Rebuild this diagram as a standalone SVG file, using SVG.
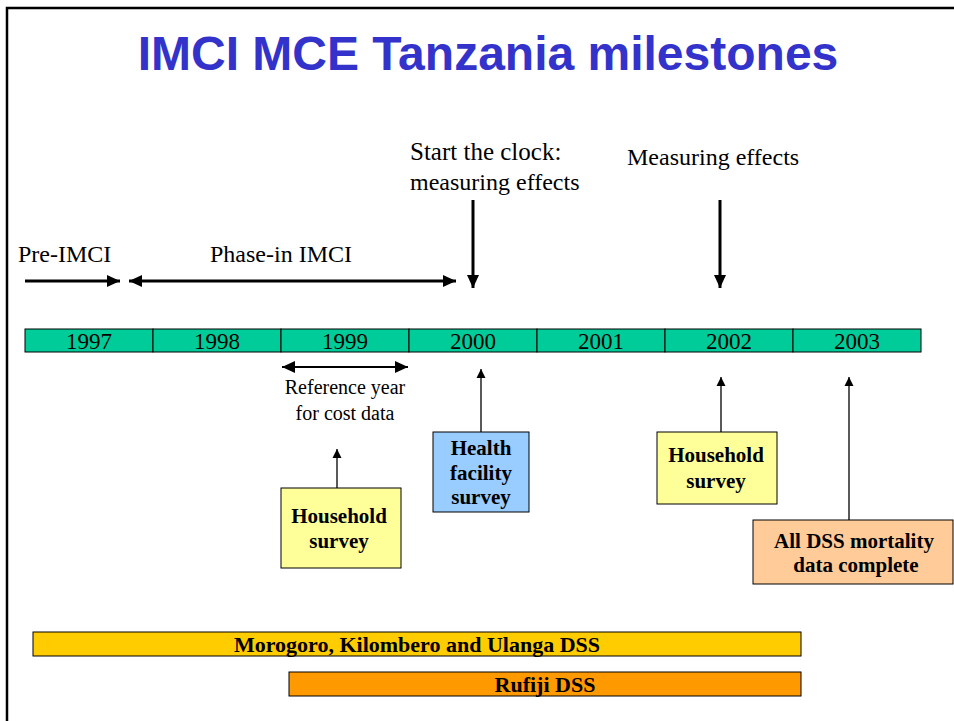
<svg xmlns="http://www.w3.org/2000/svg" width="954" height="721" viewBox="0 0 954 721">
<defs>
<style>
.title{font-family:"Liberation Sans",Arial,sans-serif;font-weight:bold;font-size:48px;fill:#3333CC}
.lbl{font-family:"Liberation Serif","Times New Roman",serif;font-size:24px;fill:#000}
.yr{font-family:"Liberation Serif","Times New Roman",serif;font-size:23px;fill:#000;text-anchor:middle}
.ref{font-family:"Liberation Serif","Times New Roman",serif;font-size:20px;fill:#000;text-anchor:middle}
.bx{font-family:"Liberation Serif","Times New Roman",serif;font-size:21px;font-weight:bold;fill:#000;text-anchor:middle}
.bar{font-family:"Liberation Serif","Times New Roman",serif;font-size:22px;font-weight:bold;fill:#000;text-anchor:middle}
.cell{fill:#00CC99;stroke:#000;stroke-width:1}
.thick{stroke:#000;stroke-width:3;fill:none}
.med{stroke:#000;stroke-width:2.2;fill:none}
.thin{stroke:#000;stroke-width:1.3;fill:none}
</style>
<marker id="ah" markerUnits="userSpaceOnUse" markerWidth="14" markerHeight="12" refX="13" refY="6" orient="auto-start-reverse"><path d="M0,0 L13,6 L0,12 Z" fill="#000"/></marker>
<marker id="ahs" markerUnits="userSpaceOnUse" markerWidth="10" markerHeight="10" refX="9" refY="5" orient="auto-start-reverse"><path d="M0,0.5 L9,5 L0,9.5 Z" fill="#000"/></marker>
</defs>
<rect width="954" height="721" fill="#fff"/>
<path d="M7,721 L7,8 L954,8" stroke="#000" stroke-width="2.5" fill="none"/>
<text class="title" x="488" y="70" text-anchor="middle">IMCI MCE Tanzania milestones</text>

<g id="timeline">
<rect class="cell" x="25" y="329" width="128" height="23"/>
<rect class="cell" x="153" y="329" width="128" height="23"/>
<rect class="cell" x="281" y="329" width="128" height="23"/>
<rect class="cell" x="409" y="329" width="128" height="23"/>
<rect class="cell" x="537" y="329" width="128" height="23"/>
<rect class="cell" x="665" y="329" width="128" height="23"/>
<rect class="cell" x="793" y="329" width="128" height="23"/>
<text class="yr" x="89" y="349">1997</text>
<text class="yr" x="217" y="349">1998</text>
<text class="yr" x="345" y="349">1999</text>
<text class="yr" x="473" y="349">2000</text>
<text class="yr" x="601" y="349">2001</text>
<text class="yr" x="729" y="349">2002</text>
<text class="yr" x="857" y="349">2003</text>
</g>

<g id="pre-imci"><text class="lbl" x="18" y="262">Pre-IMCI</text></g>
<g id="phase-in"><text class="lbl" x="210" y="262">Phase-in IMCI</text></g>
<g id="start-clock"><text class="lbl" x="410" y="160" style="font-size:25px">Start the clock:</text><text class="lbl" x="410" y="190">measuring effects</text></g>
<g id="measuring"><text class="lbl" x="627" y="165">Measuring effects</text></g>
<g id="reference"><text class="ref" x="345" y="394">Reference year</text><text class="ref" x="345" y="420">for cost data</text></g>

<g id="household1">
<rect x="281" y="488" width="120" height="80" fill="#FFFF99" stroke="#000" stroke-width="1"/>
<text class="bx" x="339" y="523">Household</text>
<text class="bx" x="339" y="548">survey</text>
</g>
<g id="health-facility">
<rect x="433" y="432" width="96" height="80" fill="#99CCFF" stroke="#000" stroke-width="1"/>
<text class="bx" x="481" y="455">Health</text>
<text class="bx" x="481" y="480">facility</text>
<text class="bx" x="481" y="504">survey</text>
</g>
<g id="household2">
<rect x="657" y="432" width="120" height="72" fill="#FFFF99" stroke="#000" stroke-width="1"/>
<text class="bx" x="716" y="462">Household</text>
<text class="bx" x="716" y="488">survey</text>
</g>
<g id="dss-complete">
<rect x="753" y="520" width="200" height="64" fill="#FFCC99" stroke="#000" stroke-width="1"/>
<text class="bx" x="854" y="548">All DSS mortality</text>
<text class="bx" x="856" y="572">data complete</text>
</g>
<g id="morogoro">
<rect x="33" y="632" width="768" height="24" fill="#FFCC00" stroke="#000" stroke-width="1"/>
<text class="bar" x="417" y="652">Morogoro, Kilombero and Ulanga DSS</text>
</g>
<g id="rufiji">
<rect x="289" y="672" width="512" height="24" fill="#FF9900" stroke="#000" stroke-width="1"/>
<text class="bar" x="545" y="692">Rufiji DSS</text>
</g>

<g id="connectors">
<line class="thick" x1="25" y1="281" x2="120" y2="281" marker-end="url(#ah)"/>
<line class="thick" x1="129" y1="281" x2="456" y2="281" marker-start="url(#ah)" marker-end="url(#ah)"/>
<line class="thick" x1="473" y1="200" x2="473" y2="288" marker-end="url(#ah)"/>
<line class="thick" x1="720" y1="200" x2="720" y2="288" marker-end="url(#ah)"/>
<line class="med" x1="282" y1="367" x2="408" y2="367" marker-start="url(#ah)" marker-end="url(#ah)"/>
<line class="thin" x1="337" y1="488" x2="337" y2="449" marker-end="url(#ahs)"/>
<line class="thin" x1="481" y1="432" x2="481" y2="369" marker-end="url(#ahs)"/>
<line class="thin" x1="721" y1="432" x2="721" y2="377" marker-end="url(#ahs)"/>
<line class="thin" x1="849" y1="520" x2="849" y2="377" marker-end="url(#ahs)"/>
</g>
</svg>
